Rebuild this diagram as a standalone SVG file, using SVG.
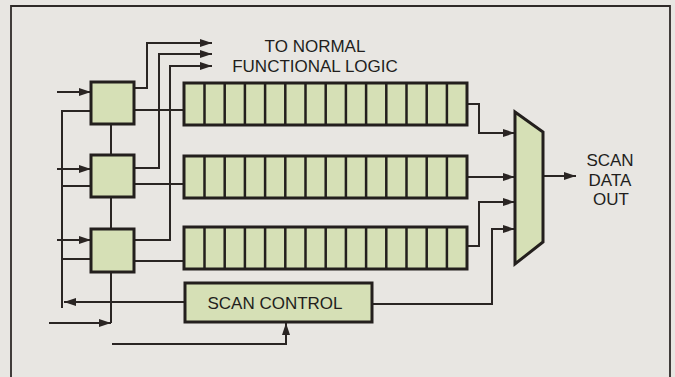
<svg xmlns="http://www.w3.org/2000/svg" width="675" height="377" viewBox="0 0 675 377">
<style>
.bg{fill:#e8e6e2}
.frame{fill:none;stroke:#2f2a28;stroke-width:1.8}
.box{fill:#d6e0b6;stroke:#231f1d;stroke-width:3}
.div{stroke:#231f1d;stroke-width:2.5}
.w{fill:none;stroke:#2a2523;stroke-width:2}
.t{font-family:"Liberation Sans",Arial,sans-serif;font-size:17px;fill:#221e1c}
</style>
<defs>
<marker id="ah" viewBox="0 0 12 8" refX="12" refY="4" markerWidth="12" markerHeight="8" markerUnits="userSpaceOnUse" orient="auto">
<path d="M0,0 L12,4 L0,8 z" fill="#2a2523"/>
</marker>
<g id="reg">
<rect class="box" x="0" y="0" width="283" height="42"/>
<path class="div" d="M20.5,0v42M40.7,0v42M60.9,0v42M81.1,0v42M101.3,0v42M121.5,0v42M141.7,0v42M161.9,0v42M182.1,0v42M202.3,0v42M222.5,0v42M242.7,0v42M262.9,0v42"/>
</g>
</defs>
<rect class="bg" x="0" y="0" width="675" height="377"/>
<path class="frame" d="M11,390V6H670V390"/>

<g id="connectors">
<path class="w" d="M134,88H147V43H212" marker-end="url(#ah)"/>
<path class="w" d="M134,168H159V54H212" marker-end="url(#ah)"/>
<path class="w" d="M134,240H170V66H212" marker-end="url(#ah)"/>
<path class="w" d="M134,110H184"/>
<path class="w" d="M134,184H184"/>
<path class="w" d="M134,261H184"/>
<path class="w" d="M111,124V155"/>
<path class="w" d="M111,197V229"/>
<path class="w" d="M111,272V323"/>
<path class="w" d="M57,92H91" marker-end="url(#ah)"/>
<path class="w" d="M57,169H91" marker-end="url(#ah)"/>
<path class="w" d="M57,240H91" marker-end="url(#ah)"/>
<path class="w" d="M49,323H111" marker-end="url(#ah)"/>
<path class="w" d="M62,308V111H91M62,186H91M62,259H91"/>
<path class="w" d="M185,302H64" marker-end="url(#ah)"/>
<path class="w" d="M112,344H286V323" marker-end="url(#ah)"/>
<path class="w" d="M467,104H479V133H515" marker-end="url(#ah)"/>
<path class="w" d="M467,177H515" marker-end="url(#ah)"/>
<path class="w" d="M467,246H479V202H515" marker-end="url(#ah)"/>
<path class="w" d="M372,304H492V229H515" marker-end="url(#ah)"/>
<path class="w" d="M543,176H576" marker-end="url(#ah)"/>
</g>

<g id="mux1"><rect class="box" x="91" y="82" width="43" height="42"/></g>
<g id="mux2"><rect class="box" x="91" y="155" width="43" height="42"/></g>
<g id="mux3"><rect class="box" x="91" y="229" width="43" height="43"/></g>

<g id="register1"><use href="#reg" x="184" y="83"/></g>
<g id="register2"><use href="#reg" x="184" y="156"/></g>
<g id="register3"><use href="#reg" x="184" y="227"/></g>

<g id="scan-control">
<rect class="box" x="185" y="283" width="187" height="39"/>
<text class="t" x="275" y="309" text-anchor="middle">SCAN CONTROL</text>
</g>

<g id="output-mux">
<path class="box" d="M515,112L543,132V242L515,264Z"/>
</g>

<g id="label-normal">
<text class="t" x="315" y="52" text-anchor="middle">TO NORMAL</text>
<text class="t" x="315" y="72" text-anchor="middle">FUNCTIONAL LOGIC</text>
</g>

<g id="label-out">
<text class="t" x="610" y="166" text-anchor="middle">SCAN</text>
<text class="t" x="610" y="186" text-anchor="middle">DATA</text>
<text class="t" x="611" y="205" text-anchor="middle">OUT</text>
</g>
</svg>
